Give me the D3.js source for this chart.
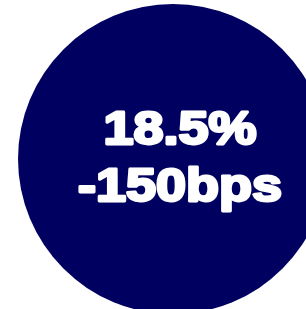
<!DOCTYPE html>
<html>
<head>
<meta charset="utf-8">
<script src="https://cdn.jsdelivr.net/npm/d3@7"></script>
<style>
  html, body { margin: 0; padding: 0; background: #fff; overflow: hidden; }
</style>
</head>
<body>
<svg id="chart"></svg>
<script>
// kpi bubble: value + change
const labels = ["18.5%", "-150bps"]
const labelWidths = [153, 204]

const width = 306, height = 309

const svg = d3.select("#chart")
    .attr("width", width)
    .attr("height", height)

svg.append("circle")
    .attr("cx", 173)
    .attr("cy", 159)
    .attr("r", 155)
    .attr("fill", "#000060")

// rows placed on a point scale
const y = d3.scalePoint()
    .domain(labels)
    .range([144, 201])

svg.selectAll("text.kpi")
  .data(labels)
  .join("text")
    .attr("class", "kpi")
    .attr("x", 180)
    .attr("y", d => y(d))
    .attr("text-anchor", "middle")
    .attr("textLength", (d, i) => labelWidths[i])
    .attr("lengthAdjust", "spacingAndGlyphs")
    .attr("font-family", "'Liberation Sans', Arial, sans-serif")
    .attr("font-weight", "bold")
    .attr("font-size", 46)
    .attr("fill", "#fff")
    .attr("stroke", "#fff")
    .attr("stroke-width", 2.8)
    .attr("stroke-linejoin", "round")
    .text(d => d)
</script>
</body>
</html>
